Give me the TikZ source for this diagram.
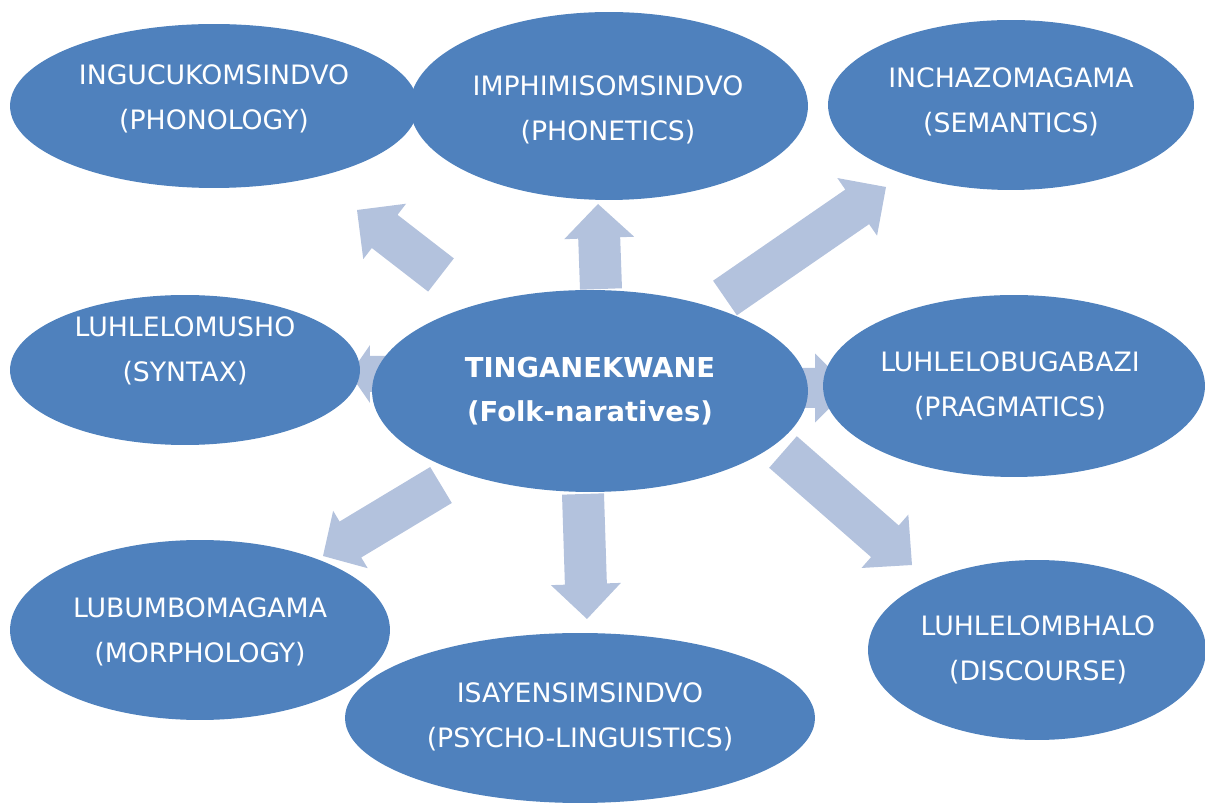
\documentclass[tikz,border=0pt]{standalone}
\usepackage{fontspec}
\setmainfont{DejaVu Sans}
\usetikzlibrary{calc,shapes.geometric}
\definecolor{ellblue}{HTML}{4F81BD}
\definecolor{arrblue}{HTML}{B3C2DD}
% block arrow: #1 tail coord, #2 tip coord, #3 shaft half width, #4 head half width, #5 head length
\newcommand\blockarr[5]{%
  \coordinate (#1b) at ($(#2)!#5!(#1)$);
  \fill[arrblue] ($(#1)!#3!90:(#2)$) -- ($(#1b)!#3!90:(#2)$) -- ($(#1b)!#4!90:(#2)$) -- (#2)
    -- ($(#1b)!#4!-90:(#2)$) -- ($(#1b)!#3!-90:(#2)$) -- ($(#1)!#3!-90:(#2)$) -- cycle;
}
\begin{document}
\begin{tikzpicture}[x=0.02cm,y=-0.02cm,
  ell/.style={ellipse,fill=ellblue,draw=none,inner sep=0pt},
  lbl/.style={text=white,align=center,inner sep=0pt,font=\fontsize{15.2pt}{25.8pt}\selectfont},
  lblb/.style={lbl,font=\fontsize{15.6pt}{25pt}\selectfont\bfseries}]
\useasboundingbox (0,0) rectangle (1205,803);
% arrow end points
\coordinate (t1) at (441,275); \coordinate (h1) at (357,210);
\coordinate (t2) at (601,289); \coordinate (h2) at (598,204);
\coordinate (t3) at (725,298); \coordinate (h3) at (886,187);
\coordinate (t4) at (395,374); \coordinate (h4) at (350,374);
\coordinate (t5) at (790,388); \coordinate (h5) at (850,388);
\coordinate (t6) at (441,485); \coordinate (h6) at (323,556);
\coordinate (t7) at (583,494); \coordinate (h7) at (587,619);
\coordinate (t8) at (783,452); \coordinate (h8) at (912,565);
\blockarr{t1}{h1}{0.42cm}{0.70cm}{0.70cm}
\blockarr{t2}{h2}{0.42cm}{0.70cm}{0.68cm}
\blockarr{t3}{h3}{0.42cm}{0.70cm}{0.70cm}
\blockarr{t4}{h4}{0.36cm}{0.58cm}{0.40cm}
\blockarr{t5}{h5}{0.40cm}{0.69cm}{0.70cm}
\blockarr{t6}{h6}{0.42cm}{0.67cm}{0.64cm}
\blockarr{t7}{h7}{0.42cm}{0.70cm}{0.70cm}
\blockarr{t8}{h8}{0.42cm}{0.71cm}{0.72cm}
% ellipses
\node[ell,minimum width=8.16cm,minimum height=3.28cm] (e1) at (214,106) {};
\node[ell,minimum width=7.96cm,minimum height=3.76cm] (e2) at (609,106) {};
\node[ell,minimum width=7.32cm,minimum height=3.40cm] (e3) at (1011,105) {};
\node[ell,minimum width=7.00cm,minimum height=3.00cm] (e4) at (185,370) {};
\node[ell,minimum width=8.72cm,minimum height=4.04cm] (e5) at (590,391) {};
\node[ell,minimum width=7.64cm,minimum height=3.64cm] (e6) at (1014,386) {};
\node[ell,minimum width=7.60cm,minimum height=3.60cm] (e7) at (200,630) {};
\node[ell,minimum width=9.40cm,minimum height=3.40cm] (e8) at (580,718) {};
\node[ell,minimum width=6.76cm,minimum height=3.60cm] (e9) at (1037,650) {};
% labels
\node[lbl] (l1) at (214,99) {INGUCUKOMSINDVO\\(PHONOLOGY)};
\node[lbl] (l2) at (608,110) {IMPHIMISOMSINDVO\\(PHONETICS)};
\node[lbl] (l3) at (1011,102) {INCHAZOMAGAMA\\(SEMANTICS)};
\node[lbl] (l4) at (185,351) {LUHLELOMUSHO\\(SYNTAX)};
\node[lblb] (l5) at (590,391) {TINGANEKWANE\\(Folk-naratives)};
\node[lbl] (l6) at (1010,386) {LUHLELOBUGABAZI\\(PRAGMATICS)};
\node[lbl] (l7) at (200,632) {LUBUMBOMAGAMA\\(MORPHOLOGY)};
\node[lbl] (l8) at (580,717) {ISAYENSIMSINDVO\\(PSYCHO-LINGUISTICS)};
\node[lbl] (l9) at (1038,650) {LUHLELOMBHALO\\(DISCOURSE)};
\end{tikzpicture}
\end{document}
